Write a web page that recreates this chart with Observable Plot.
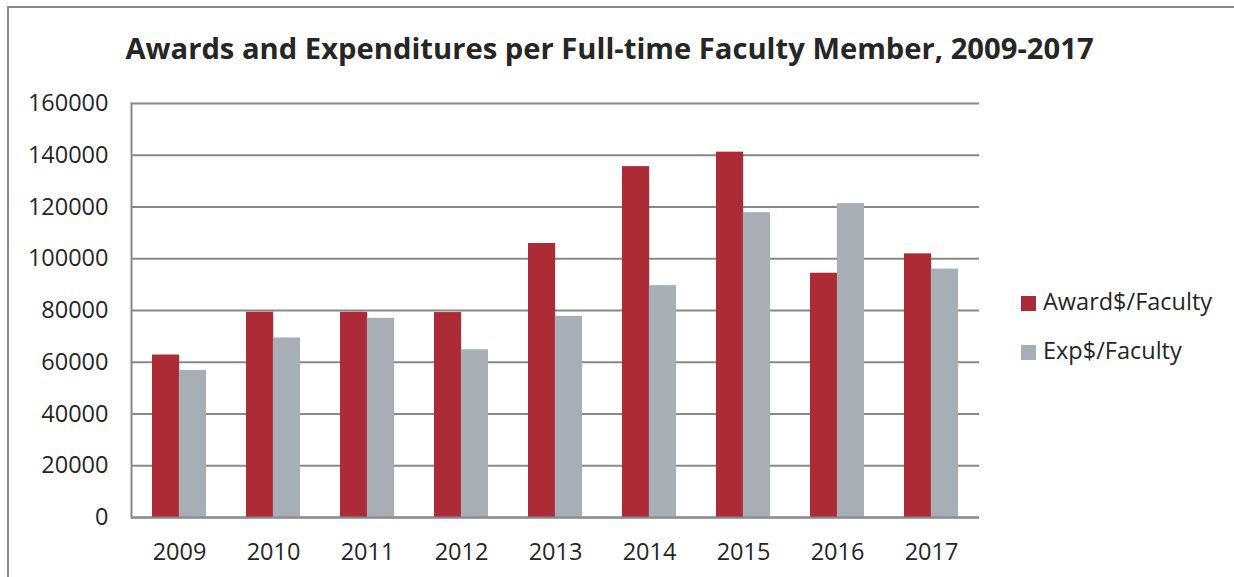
<!DOCTYPE html>
<html>
<head>
<meta charset="utf-8">
<script src="https://cdn.jsdelivr.net/npm/d3@7"></script>
<script src="https://cdn.jsdelivr.net/npm/@observablehq/plot@0.6"></script>
<style>
  html, body { margin: 0; padding: 0; background: #fff; }
  #wrap { position: relative; width: 1234px; height: 577px; overflow: hidden; font-family: "Open Sans", sans-serif; color: #262626; }
  #border { position: absolute; left: 7px; top: 6px; width: 1300px; height: 700px; border-left: 2px solid #8a8a8a; border-top: 2px solid #8a8a8a; }
  #title { position: absolute; left: 0; width: 1219px; top: 34px; text-align: center; font-weight: bold; font-size: 29.2px; line-height: 29px; white-space: nowrap; }
  #chart { position: absolute; left: 0; top: 0; }
  .leg { position: absolute; left: 1021px; font-size: 23.5px; line-height: 24px; white-space: nowrap; }
  .leg span.sw { position: absolute; left: 0; top: 4px; width: 15px; height: 15px; }
  .leg span.lb { position: absolute; left: 22px; top: -3px; }
</style>
</head>
<body>
<div id="wrap">
  <div id="border"></div>
  <div id="title"></div>
  <div id="chart"></div>
  <div id="legend"></div>
</div>
<script>
const title = "Awards and Expenditures per Full-time Faculty Member, 2009-2017";
const years = ["2009","2010","2011","2012","2013","2014","2015","2016","2017"];
const seriesNames = ["Award$/Faculty", "Exp$/Faculty"];
const awardPerFaculty = [62800, 79300, 79300, 79200, 105900, 135600, 141200, 94400, 101900];
const expPerFaculty   = [56800, 69400, 77000, 64800, 77700, 89600, 117800, 121300, 96000];
const yTicks = [0, 20000, 40000, 60000, 80000, 100000, 120000, 140000, 160000];
const colors = ["#ad2a37", "#a8aeb6"];

document.getElementById("title").textContent = title;

const award = years.map((y, i) => ({year: y, value: awardPerFaculty[i]}));
const exp = years.map((y, i) => ({year: y, value: expPerFaculty[i]}));

const W = 1000, H = 577;
const mL = 131, mR = 21, mT = 103, mB = 60;
const band = (W - mL - mR) / years.length * 0.57;
const half = band / 2;

const plot = Plot.plot({
  width: W,
  height: H,
  marginLeft: mL,
  marginRight: mR,
  marginTop: mT,
  marginBottom: mB,
  style: {fontFamily: "Open Sans, sans-serif", fontSize: "23.5px", color: "#262626", background: "transparent", overflow: "visible"},
  x: {domain: years, paddingInner: 0.43, paddingOuter: 0.215, label: null},
  y: {domain: [0, 160000], label: null},
  marks: [
    Plot.ruleY(yTicks, {stroke: "#888", strokeWidth: 2, strokeOpacity: 1}),
    Plot.barY(award, {x: "year", y: "value", fill: colors[0], insetRight: half}),
    Plot.barY(exp, {x: "year", y: "value", fill: colors[1], insetLeft: half}),
    Plot.frame({anchor: "left", stroke: "#888", strokeWidth: 2}),
    Plot.ruleY([0], {stroke: "#888", strokeWidth: 2}),
    Plot.axisY({ticks: yTicks, tickSize: 0, tickPadding: 23, tickFormat: d => String(d), label: null, fill: "#262626"}),
    Plot.axisX({tickSize: 0, tickPadding: 26, label: null, fill: "#262626"})
  ]
});
document.getElementById("chart").appendChild(plot);

const legend = document.getElementById("legend");
const legTops = [292, 341];
seriesNames.forEach((name, i) => {
  const d = document.createElement("div");
  d.className = "leg";
  d.style.top = legTops[i] + "px";
  d.innerHTML = `<span class="sw" style="background:${colors[i]}"></span><span class="lb"></span>`;
  d.querySelector(".lb").textContent = name;
  legend.appendChild(d);
});
</script>
</body>
</html>
